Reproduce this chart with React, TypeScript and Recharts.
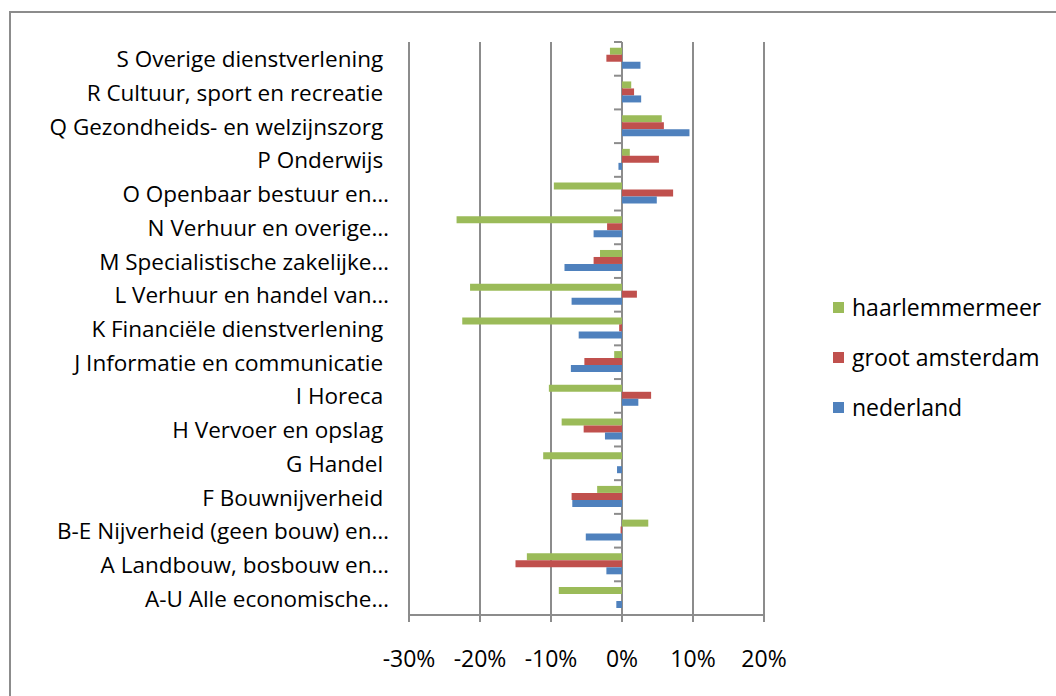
import React from 'react';
import { BarChart, Bar, XAxis, YAxis, CartesianGrid } from 'recharts';

// categories listed top to bottom, as they appear in the chart
const categories = [
    'S Overige dienstverlening ',
    'R Cultuur, sport en recreatie ',
    'Q Gezondheids- en welzijnszorg ',
    'P Onderwijs ',
    'O Openbaar bestuur en…',
    'N Verhuur en overige…',
    'M Specialistische zakelijke…',
    'L Verhuur en handel van…',
    'K Financiële dienstverlening ',
    'J Informatie en communicatie ',
    'I Horeca ',
    'H Vervoer en opslag ',
    'G Handel ',
    'F Bouwnijverheid ',
    'B-E Nijverheid (geen bouw) en…',
    'A Landbouw, bosbouw en…',
    'A-U Alle economische…',
];

const haarlemmermeer = [-1.7, 1.3, 5.6, 1.1, -9.6, -23.3, -3.1, -21.4, -22.5, -1.1, -10.3, -8.5, -11.1, -3.5, 3.7, -13.4, -8.9];
const grootAmsterdam = [-2.2, 1.7, 5.9, 5.2, 7.2, -2.1, -4.0, 2.1, -0.4, -5.3, 4.1, -5.4, 0, -7.1, -0.2, -15.0, 0];
const nederland = [2.6, 2.7, 9.5, -0.5, 4.9, -4.0, -8.1, -7.1, -6.1, -7.2, 2.3, -2.4, -0.7, -7.0, -5.1, -2.2, -0.8];

const xTicks = [-30, -20, -10, 0, 10, 20];

const seriesInfo = [
    { key: 'haarlemmermeer', color: '#9BBB59' },
    { key: 'groot amsterdam', color: '#C0504D' },
    { key: 'nederland', color: '#4F81BD' },
];

const data = categories.map((name, i) => ({
    name,
    haarlemmermeer: haarlemmermeer[i],
    'groot amsterdam': grootAmsterdam[i],
    nederland: nederland[i],
}));

const FONT = '"Open Sans", Lato, sans-serif';
const GRID = '#8c8c8c';

const PLOT_TOP = 42;
const PLOT_BOTTOM = 615;
const PLOT_LEFT = 409;
const PLOT_RIGHT = 764;
const ZERO_X = PLOT_LEFT + (PLOT_RIGHT - PLOT_LEFT) * 30 / 50;
const BAND = (PLOT_BOTTOM - PLOT_TOP) / categories.length;

const CategoryTick = ({ y, payload }: any) => (
    <g>
        <text x={389} y={y} textAnchor="end" dominantBaseline="central" fontSize={22.5} fill="#000" style={{ whiteSpace: 'pre', fontFamily: FONT }}>
            {payload.value}
        </text>
        {/* small marks on the zero axis at category boundaries */}
        <line x1={ZERO_X - 8} x2={ZERO_X} y1={y - BAND / 2} y2={y - BAND / 2} stroke={GRID} strokeWidth={2} />
    </g>
);

const App: React.FC = () => {
    return (
        <div style={{ position: 'fixed', left: 0, top: 0, width: 1056, height: 696, background: '#fff', overflow: 'hidden' }}>
            <div style={{ position: 'absolute', left: 9, top: 11, width: 1047, height: 685, borderTop: `2px solid ${GRID}`, borderLeft: `2px solid ${GRID}`, boxSizing: 'border-box' }} />
            <div style={{ position: 'absolute', left: 0, top: 0 }}>
                <BarChart
                    width={1056}
                    height={696}
                    data={data}
                    layout="vertical"
                    margin={{ top: PLOT_TOP, right: 1056 - PLOT_RIGHT, bottom: 21, left: 0 }}
                    barCategoryGap="17%"
                    barGap={0}
                >
                    <CartesianGrid horizontal={false} stroke={GRID} strokeWidth={2} />
                    <XAxis
                        type="number"
                        domain={[-30, 20]}
                        ticks={xTicks}
                        interval={0}
                        tickFormatter={(v: number) => `${v}%`}
                        height={60}
                        axisLine={{ stroke: GRID, strokeWidth: 2 }}
                        tickLine={{ stroke: GRID, strokeWidth: 2 }}
                        tickSize={7}
                        tickMargin={29}
                        tick={{ fill: '#000', fontSize: 23, fontFamily: FONT }}
                    />
                    <YAxis
                        type="category"
                        dataKey="name"
                        width={PLOT_LEFT}
                        axisLine={false}
                        tickLine={false}
                        interval={0}
                        tick={<CategoryTick />}
                    />
                    {seriesInfo.map(s => (
                        <Bar key={s.key} dataKey={s.key} fill={s.color} isAnimationActive={false} />
                    ))}
                </BarChart>
            </div>
            <div style={{ position: 'absolute', left: 833, top: 282, fontFamily: FONT, fontSize: 23, color: '#000' }}>
                {seriesInfo.map(s => (
                    <div key={s.key} style={{ display: 'flex', alignItems: 'center', height: 50 }}>
                        <span style={{ display: 'inline-block', width: 11, height: 11, background: s.color, marginRight: 8 }} />
                        <span>{s.key}</span>
                    </div>
                ))}
            </div>
        </div>
    );
};

export default App;
